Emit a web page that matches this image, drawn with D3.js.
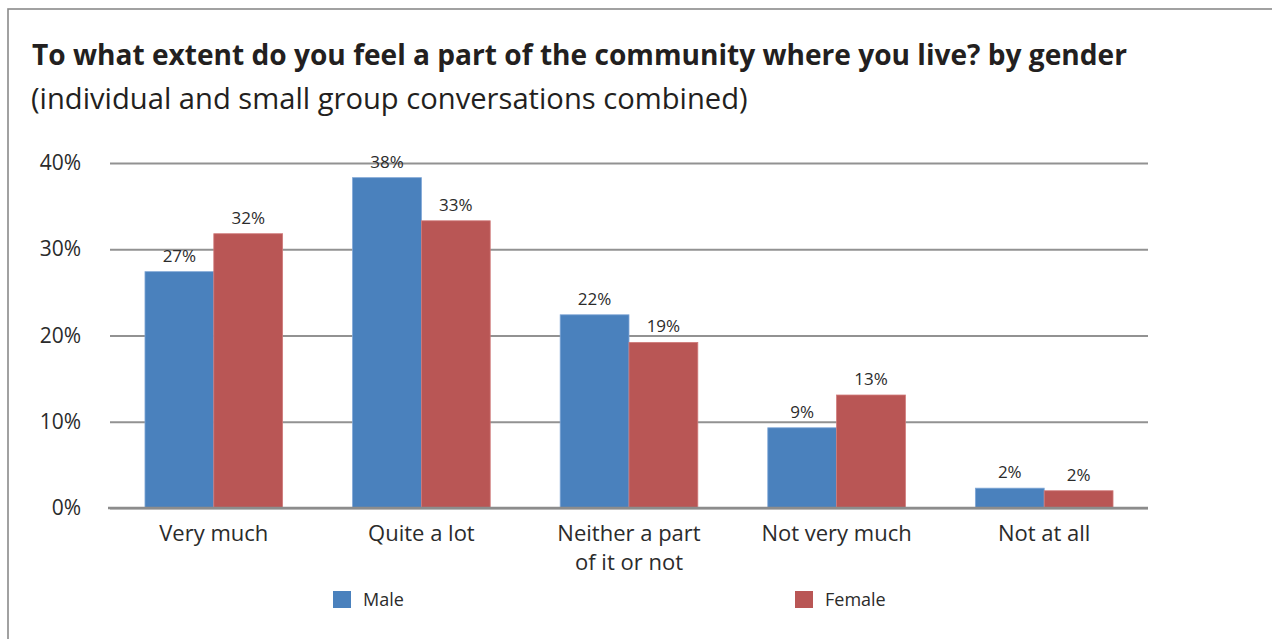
<!DOCTYPE html>
<html>
<head>
<meta charset="utf-8">
<script src="https://cdn.jsdelivr.net/npm/d3@7"></script>
<style>
  html, body { margin: 0; padding: 0; background: #fff; }
  svg { display: block; }
  text { font-family: "Open Sans", Lato, sans-serif; fill: #2b2b2b; }
</style>
</head>
<body>
<svg id="chart" width="1272" height="639"></svg>
<script>
// Survey responses by gender (percent of respondents)
const categories = [["Very much"], ["Quite a lot"], ["Neither a part", "of it or not"], ["Not very much"], ["Not at all"]];
const seriesNames = ["Male", "Female"];
const maleValues = [27.4, 38.3, 22.4, 9.3, 2.3];
const femaleValues = [31.8, 33.3, 19.2, 13.1, 2.0];
const yTicks = [0, 10, 20, 30, 40];
const colors = ["#4a81bd", "#b95655"];

const svg = d3.select("#chart");

// Outer frame
svg.append("rect")
  .attr("x", 8).attr("y", 9).attr("width", 1300).attr("height", 700)
  .attr("fill", "none").attr("stroke", "#8a8a8a").attr("stroke-width", 1.6);

// Shrink or grow a text's font size so it spans the given width
function fitWidth(sel, width) {
  const node = sel.node();
  const fs = parseFloat(sel.style("font-size"));
  const w = node.getComputedTextLength();
  sel.style("font-size", (fs * width / w).toFixed(2) + "px");
}

// Title and subtitle
const title = svg.append("text").attr("x", 32).attr("y", 65)
  .style("font-size", "26px").style("font-weight", 700).style("fill", "#231f20")
  .text("To what extent do you feel a part of the community where you live? by gender");
fitWidth(title, 1095);
const subtitle = svg.append("text").attr("x", 31).attr("y", 109)
  .style("font-size", "25px").style("fill", "#231f20")
  .text("(individual and small group conversations combined)");
fitWidth(subtitle, 717);

const plot = { left: 110, right: 1148, top: 163, bottom: 508 };

const x = d3.scaleBand()
  .domain(d3.range(categories.length))
  .range([plot.left, plot.right])
  .paddingInner(0.337).paddingOuter(0.1685);

const xs = d3.scaleBand().domain(d3.range(seriesNames.length)).range([0, x.bandwidth()]);

const y = d3.scaleLinear().domain([0, 40]).range([plot.bottom, plot.top]);

// Gridlines and y tick labels
const yAxis = d3.axisLeft(y).tickValues(yTicks).tickFormat(d => d + "%")
  .tickSize(-(plot.right - plot.left)).tickPadding(29);
const gy = svg.append("g").attr("transform", `translate(${plot.left},0)`).call(yAxis);
gy.select(".domain").remove();
gy.selectAll(".tick line").attr("stroke", "#929292").attr("stroke-width", 2);
gy.selectAll(".tick text").style("font-size", "21px").style("fill", "#2b2b2b")
  .attr("font-family", null);

// Bars
const series = [maleValues, femaleValues];
const groups = svg.append("g").selectAll("g")
  .data(categories.map((c, i) => ({ i, vals: series.map(s => s[i]) })))
  .join("g")
  .attr("transform", d => `translate(${x(d.i)},0)`);

groups.selectAll("rect")
  .data(d => d.vals.map((v, s) => ({ v, s })))
  .join("rect")
  .attr("x", d => xs(d.s))
  .attr("y", d => y(d.v))
  .attr("width", xs.bandwidth())
  .attr("height", d => y(0) - y(d.v))
  .attr("fill", d => colors[d.s])
  .attr("stroke", d => d.s === 0 ? "#7fa6d6" : "#d07a7a")
  .attr("stroke-width", 0.8);

groups.selectAll("text.val")
  .data(d => d.vals.map((v, s) => ({ v, s })))
  .join("text")
  .attr("class", "val")
  .attr("x", d => xs(d.s) + xs.bandwidth() / 2)
  .attr("y", d => y(d.v) - 10)
  .attr("text-anchor", "middle")
  .style("font-size", "17px")
  .text(d => Math.round(d.v) + "%");

// Baseline
svg.append("line")
  .attr("x1", plot.left - 2).attr("x2", plot.right)
  .attr("y1", y(0)).attr("y2", y(0))
  .attr("stroke", "#8c8c8c").attr("stroke-width", 2.5);

// Category labels
const xl = svg.append("g").selectAll("text")
  .data(categories.map((c, i) => ({ c, i })))
  .join("text")
  .attr("x", d => x(d.i) + x.bandwidth() / 2)
  .attr("y", 541)
  .attr("text-anchor", "middle")
  .style("font-size", "22px");
xl.selectAll("tspan")
  .data(d => d.c.map((line, k) => ({ line, k, cx: x(d.i) + x.bandwidth() / 2 })))
  .join("tspan")
  .attr("x", d => d.cx)
  .attr("dy", d => d.k === 0 ? 0 : 29)
  .text(d => d.line);

// Legend
const legendX = [333, 795];
const legend = svg.append("g").selectAll("g")
  .data(seriesNames.map((n, i) => ({ n, i })))
  .join("g")
  .attr("transform", d => `translate(${legendX[d.i]},591)`);
legend.append("rect").attr("width", 18).attr("height", 17).attr("fill", d => colors[d.i]);
legend.append("text").attr("x", 30).attr("y", 15).style("font-size", "18px").text(d => d.n);
</script>
</body>
</html>
